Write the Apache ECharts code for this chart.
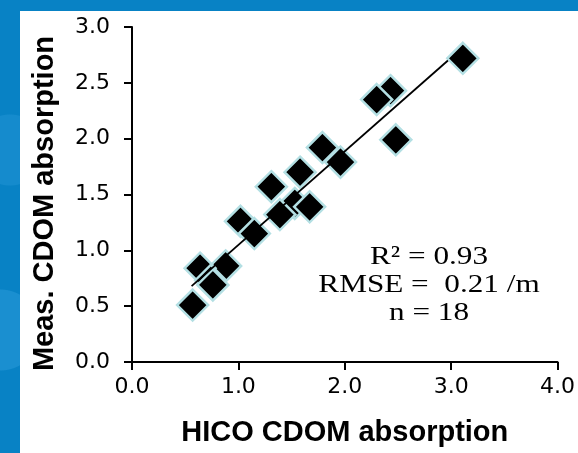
<!DOCTYPE html>
<html>
<head>
<meta charset="utf-8">
<script src="https://cdn.jsdelivr.net/npm/echarts@6/dist/echarts.min.js"></script>
<style>
  body { margin: 0; }
  #wrap {
    position: relative; width: 578px; height: 453px; overflow: hidden;
    background: radial-gradient(circle at 0px 330px, #1a8fd0 0, #1a8fd0 40px, rgba(0,0,0,0) 41px),
                radial-gradient(circle at 10px 150px, #158bcd 0, #158bcd 35px, rgba(0,0,0,0) 36px),
                #0882c5;
  }
  #chart { position: absolute; left: 20px; top: 11px; width: 558px; height: 442px; background: #fff; }
</style>
</head>
<body>
<div id="wrap"><div id="chart"></div></div>
<script>
// HICO vs measured CDOM absorption
var hicoX = [3.11, 2.43, 2.30, 2.48, 1.79, 1.96, 1.58, 1.31, 1.53, 1.67, 1.39, 1.02, 1.15, 0.88, 0.64, 0.74, 0.76, 0.57];
var measY = [2.72, 2.43, 2.35, 1.99, 1.92, 1.79, 1.70, 1.57, 1.42, 1.39, 1.32, 1.26, 1.15, 0.86, 0.84, 0.73, 0.69, 0.51];
// fitted line end points
var fitX = [0.56, 2.97];
var fitY = [0.68, 2.70];
var statText = ["R² = 0.93", "RMSE =  0.21 /m", "n = 18"];

var points = [];
for (var i = 0; i < hicoX.length; i++) {
  points.push([hicoX[i], measY[i]]);
}
var fitLine = [];
for (var j = 0; j < fitX.length; j++) {
  fitLine.push([fitX[j], fitY[j]]);
}

var myChart = echarts.init(document.getElementById("chart"));
var option = {
  animation: false,
  grid: { left: 112, right: 16, top: 16, bottom: 91 },
  xAxis: {
    type: "value",
    min: 0,
    max: 4,
    interval: 1,
    splitLine: { show: false },
    axisLine: { onZero: false, lineStyle: { color: "#000", width: 2 } },
    axisTick: { inside: false, length: 8, lineStyle: { color: "#000", width: 2 } },
    axisLabel: {
      margin: 14,
      color: "#000",
      fontFamily: "DejaVu Sans",
      fontSize: 22,
      formatter: function(v) { return v.toFixed(1); }
    },
    name: "HICO CDOM absorption",
    nameLocation: "middle",
    nameGap: 56,
    nameTextStyle: {
      color: "#000",
      fontFamily: "Liberation Sans",
      fontWeight: "bold",
      fontSize: 29
    }
  },
  yAxis: {
    type: "value",
    min: 0,
    max: 3,
    interval: 0.5,
    splitLine: { show: false },
    axisLine: { show: true, onZero: false, lineStyle: { color: "#000", width: 2 } },
    axisTick: { show: true, inside: false, length: 8, lineStyle: { color: "#000", width: 2 } },
    axisLabel: {
      margin: 22,
      color: "#000",
      fontFamily: "DejaVu Sans",
      fontSize: 22,
      formatter: function(v) { return v.toFixed(1); }
    },
    name: "Meas. CDOM absorption",
    nameLocation: "middle",
    nameGap: 73,
    nameTextStyle: {
      color: "#000",
      fontFamily: "Liberation Sans",
      fontWeight: "bold",
      fontSize: 29,
      padding: [0, 0, 0, -18]
    }
  },
  graphic: [
    {
      type: "text",
      x: 409,
      y: 274,
      scaleX: 1.2,
      style: {
        text: statText.join("\n"),
        fill: "#000",
        fontFamily: "Liberation Serif",
        fontSize: 26,
        lineHeight: 28,
        align: "center",
        verticalAlign: "middle"
      }
    }
  ],
  series: [
    {
      type: "scatter",
      data: points,
      symbol: "diamond",
      symbolSize: 31,
      itemStyle: { color: "#000", borderColor: "#b3dfe3", borderWidth: 2.5, opacity: 1 },
      z: 2
    },
    {
      type: "line",
      data: fitLine,
      symbol: "none",
      lineStyle: { color: "#000", width: 1.8 },
      z: 3
    }
  ]
};
myChart.setOption(option);
window.addEventListener("resize", function() {
  myChart.resize();
});
</script>
</body>
</html>
